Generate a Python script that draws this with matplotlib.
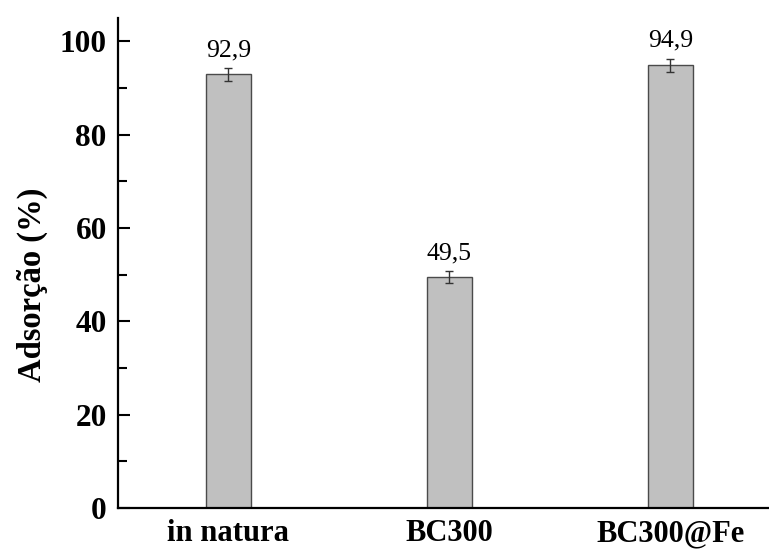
import matplotlib
matplotlib.use("Agg")
import matplotlib.pyplot as plt
from matplotlib.ticker import MultipleLocator

# adsorption results per material
materials = ["in natura", "BC300", "BC300@Fe"]
adsorption = [92.9, 49.5, 94.9]
errors = [1.4, 1.25, 1.4]
value_labels = ["92,9", "49,5", "94,9"]

plt.rcParams["font.family"] = ["Liberation Serif", "DejaVu Serif"]

fig = plt.figure(figsize=(7.69, 5.5), dpi=100)
ax = fig.add_axes([0.1534, 0.0764, 0.8466, 0.8909])

x = range(len(materials))
ax.bar(x, adsorption, width=0.204, color="#c0c0c0", edgecolor="#4a4a4a",
       linewidth=1.0, zorder=2)
ax.errorbar(x, adsorption, yerr=errors, fmt="none", ecolor="#333333",
            elinewidth=1.0, capsize=3.0, capthick=1.0, zorder=3)

for xi, v, e, lab in zip(x, adsorption, errors, value_labels):
    ax.annotate(lab, (xi, v + e), xytext=(0, 5), textcoords="offset points",
                ha="center", va="bottom", fontsize=18.5)

ax.set_xlim(-0.5, 2.446)
ax.set_ylim(0, 105)
ax.set_xticks(list(x))
ax.set_xticklabels(materials, fontsize=22, fontweight="bold")
ax.yaxis.set_major_locator(MultipleLocator(20))
ax.yaxis.set_minor_locator(MultipleLocator(10))
for t in ax.get_yticklabels():
    t.set_fontsize(22.5)
    t.set_fontweight("bold")
ax.set_ylabel("Adsorção (%)", fontsize=23.5, fontweight="bold")
ax.yaxis.set_label_coords(-0.108, 0.455)

ax.tick_params(axis="y", which="major", direction="in", length=8.5, width=1.5, pad=8)
ax.tick_params(axis="y", which="minor", direction="in", length=6.5, width=1.5)
ax.tick_params(axis="x", which="major", direction="in", length=7, width=1.5, pad=8)

for side in ["top", "right"]:
    ax.spines[side].set_visible(False)
for side in ["left", "bottom"]:
    ax.spines[side].set_linewidth(1.6)

fig.savefig("out.png", dpi=100)
